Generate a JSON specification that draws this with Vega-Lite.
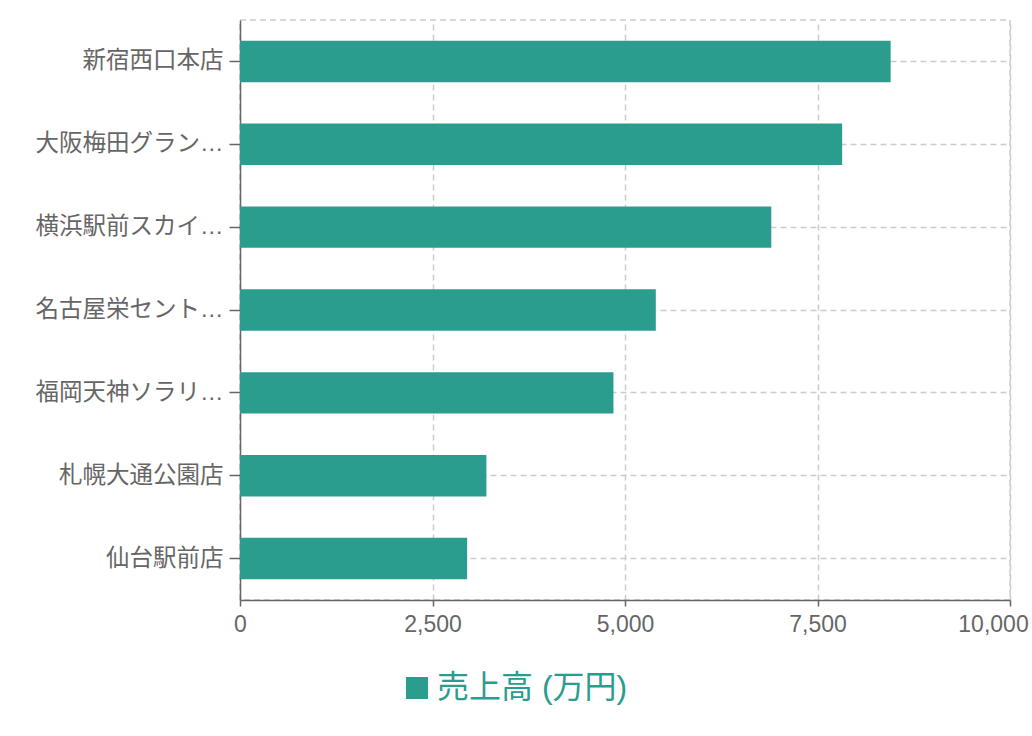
{
  "$schema": "https://vega.github.io/schema/vega-lite/v6.json",
  "width": 770,
  "height": 580,
  "autosize": {"type": "none"},
  "padding": {"left": 240, "top": 20, "right": 22, "bottom": 136},
  "background": "#ffffff",
  "config": {
    "font": "Liberation Sans, Noto Sans CJK JP, sans-serif",
    "view": {"stroke": "#cccccc", "strokeDash": [6, 4], "strokeWidth": 1.5}
  },
  "data": {
    "values": [
      {"store": "新宿西口本店", "sales": 8450, "series": "売上高 (万円)"},
      {"store": "大阪梅田グランフロント店", "sales": 7820, "series": "売上高 (万円)"},
      {"store": "横浜駅前スカイビル店", "sales": 6900, "series": "売上高 (万円)"},
      {"store": "名古屋栄セントラルパーク店", "sales": 5400, "series": "売上高 (万円)"},
      {"store": "福岡天神ソラリア店", "sales": 4850, "series": "売上高 (万円)"},
      {"store": "札幌大通公園店", "sales": 3200, "series": "売上高 (万円)"},
      {"store": "仙台駅前店", "sales": 2950, "series": "売上高 (万円)"}
    ]
  },
  "mark": {"type": "bar"},
  "encoding": {
    "y": {
      "field": "store",
      "type": "nominal",
      "sort": null,
      "scale": {"paddingInner": 0.5, "paddingOuter": 0.25},
      "axis": {
        "title": null,
        "labelFontSize": 23.5,
        "labelColor": "#666666",
        "labelLimit": 190,
        "labelPadding": 6,
        "tickSize": 11,
        "tickColor": "#666666",
        "domainColor": "#666666",
        "domainWidth": 1.5,
        "tickWidth": 1.5,
        "grid": true,
        "gridColor": "#cccccc",
        "gridDash": [6, 4],
        "gridWidth": 1.5
      }
    },
    "x": {
      "field": "sales",
      "type": "quantitative",
      "scale": {"domain": [0, 10000], "nice": false},
      "axis": {
        "title": null,
        "values": [0, 2500, 5000, 7500, 10000],
        "format": ",d",
        "labelFontSize": 23,
        "labelColor": "#666666",
        "labelPadding": 7,
        "labelFlush": false,
        "labelOffset": {"expr": "datum.value == 10000 ? -17 : 0"},
        "tickSize": 6,
        "tickColor": "#666666",
        "domainColor": "#666666",
        "domainWidth": 1.5,
        "tickWidth": 1.5,
        "grid": true,
        "gridColor": "#cccccc",
        "gridDash": [6, 4],
        "gridWidth": 1.5
      }
    },
    "color": {
      "field": "series",
      "type": "nominal",
      "scale": {"range": ["#2a9d8f"]},
      "legend": {
        "title": null,
        "orient": "none",
        "legendX": 161,
        "legendY": 652,
        "padding": 0,
        "symbolType": "square",
        "symbolSize": 484,
        "symbolStrokeWidth": 0,
        "labelFontSize": 32,
        "labelColor": "#2a9d8f",
        "labelOffset": 4,
        "labelLimit": 400
      }
    }
  }
}
